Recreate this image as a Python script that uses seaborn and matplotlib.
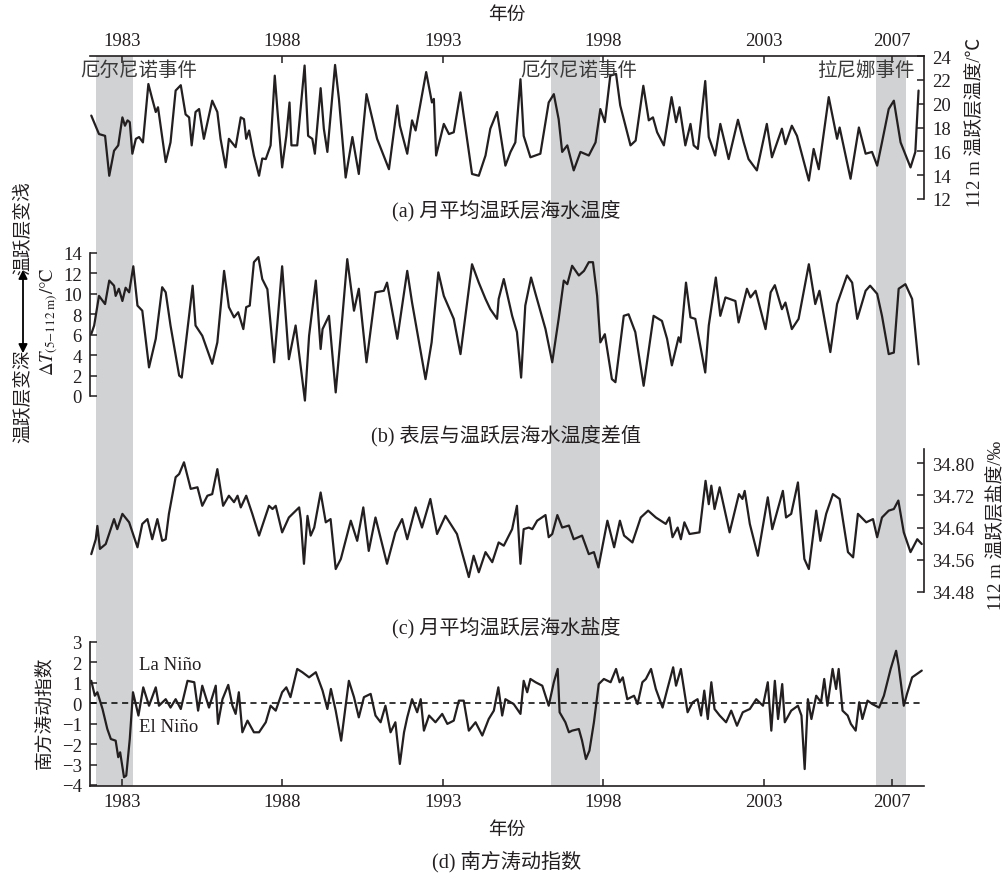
import matplotlib
matplotlib.use("Agg")
import matplotlib.pyplot as plt
import seaborn as sns
import pandas as pd

# ---------------- data ----------------
tick_years = [1983, 1988, 1993, 1998, 2003, 2007]
events = [(1982.19, 1983.34), (1996.36, 1997.89), (2006.49, 2007.45)]
event_labels = ["厄尔尼诺事件", "厄尔尼诺事件", "拉尼娜事件"]

# (a) 112 m thermocline temperature, degC
temp_pts = [
    (1982.04, 19.0), (1982.28, 17.45), (1982.47, 17.3), (1982.6, 13.95), (1982.75, 16.05),
    (1982.88, 16.5), (1983.01, 18.85), (1983.09, 18.15), (1983.17, 18.6), (1983.24, 18.45),
    (1983.32, 15.8), (1983.43, 17.05), (1983.53, 17.2), (1983.65, 16.75), (1983.82, 21.65),
    (1983.94, 20.4), (1984.05, 19.3), (1984.12, 19.7), (1984.2, 18.15), (1984.36, 15.1),
    (1984.51, 16.75), (1984.67, 21.1), (1984.83, 21.55), (1984.98, 19.1), (1985.09, 18.85),
    (1985.17, 16.5), (1985.29, 19.3), (1985.4, 19.55), (1985.55, 17.05), (1985.81, 20.25),
    (1985.97, 19.3), (1986.07, 17.05), (1986.23, 14.65), (1986.33, 17.05), (1986.54, 16.35),
    (1986.7, 18.85), (1986.8, 18.7), (1986.87, 17.05), (1986.96, 17.75), (1987.11, 15.65),
    (1987.27, 13.95), (1987.37, 15.4), (1987.48, 15.35), (1987.63, 16.5), (1987.76, 22.35),
    (1987.84, 19.55), (1987.99, 14.65), (1988.12, 17.3), (1988.22, 20.1), (1988.28, 16.5),
    (1988.46, 16.5), (1988.69, 23.2), (1988.8, 17.3), (1988.93, 17.05), (1989.01, 15.8),
    (1989.19, 21.3), (1989.29, 17.9), (1989.4, 15.95), (1989.64, 23.25), (1989.76, 20.4),
    (1989.97, 13.8), (1990.18, 17.2), (1990.38, 14.1), (1990.62, 20.8), (1990.95, 17.05),
    (1991.32, 14.5), (1991.58, 19.85), (1991.66, 18.15), (1991.89, 15.8), (1992.04, 18.6),
    (1992.15, 17.75), (1992.48, 22.65), (1992.66, 20.1), (1992.72, 20.4), (1992.79, 15.65),
    (1993.03, 18.3), (1993.19, 17.45), (1993.34, 17.6), (1993.55, 20.95), (1993.65, 19.0),
    (1993.91, 14.1), (1994.12, 13.95), (1994.33, 15.65), (1994.48, 17.9), (1994.69, 19.3),
    (1994.85, 16.5), (1994.95, 14.8), (1995.11, 15.95), (1995.26, 16.75), (1995.42, 22.05),
    (1995.52, 17.3), (1995.73, 15.5), (1996.04, 15.8), (1996.3, 20.1), (1996.46, 20.8),
    (1996.61, 18.7), (1996.72, 15.95), (1996.88, 16.5), (1997.08, 14.4), (1997.29, 15.95),
    (1997.55, 15.65), (1997.76, 16.75), (1997.91, 19.55), (1998.05, 18.45), (1998.22, 22.35),
    (1998.4, 22.5), (1998.53, 19.85), (1998.85, 16.5), (1999.01, 16.9), (1999.25, 21.5),
    (1999.42, 18.6), (1999.55, 18.85), (1999.68, 17.6), (1999.89, 16.5), (2000.13, 20.55),
    (2000.27, 18.45), (2000.38, 19.7), (2000.56, 16.5), (2000.72, 18.3), (2000.82, 16.5),
    (2000.95, 16.2), (2001.18, 21.9), (2001.29, 17.2), (2001.49, 15.65), (2001.65, 18.3),
    (2001.91, 15.35), (2002.2, 18.65), (2002.38, 16.75), (2002.53, 15.35), (2002.79, 14.4),
    (2003.1, 18.3), (2003.26, 15.5), (2003.57, 17.9), (2003.68, 16.6), (2003.88, 18.15),
    (2004.04, 17.3), (2004.41, 13.55), (2004.56, 16.2), (2004.72, 14.5), (2005.03, 20.55),
    (2005.29, 17.05), (2005.37, 18.0), (2005.71, 13.7), (2005.97, 18.0), (2006.18, 15.8),
    (2006.38, 15.95), (2006.54, 14.8), (2006.69, 16.75), (2006.9, 19.55), (2007.06, 20.25),
    (2007.27, 16.75), (2007.58, 14.65), (2007.73, 15.95), (2007.83, 21.1),
]

# (b) surface minus thermocline temperature, degC
dT_pts = [
    (1982.04, 6.07), (1982.13, 6.9), (1982.28, 9.8), (1982.47, 9.0), (1982.6, 11.3),
    (1982.75, 10.8), (1982.8, 9.8), (1982.9, 10.5), (1983.01, 9.3), (1983.11, 10.6),
    (1983.22, 10.15), (1983.35, 12.7), (1983.48, 8.85), (1983.63, 8.35), (1983.84, 2.8),
    (1984.05, 5.6), (1984.25, 10.65), (1984.36, 10.15), (1984.51, 6.9), (1984.78, 2.0),
    (1984.86, 1.8), (1985.04, 6.55), (1985.2, 10.8), (1985.29, 6.9), (1985.5, 5.9),
    (1985.81, 3.15), (1985.97, 5.25), (1986.18, 12.25), (1986.33, 8.7), (1986.49, 7.7),
    (1986.62, 8.2), (1986.78, 6.55), (1986.87, 8.7), (1986.98, 8.85), (1987.11, 13.1),
    (1987.25, 13.6), (1987.37, 11.45), (1987.53, 10.45), (1987.74, 3.3), (1987.99, 12.7),
    (1988.2, 3.6), (1988.41, 6.9), (1988.7, -0.45), (1988.83, 5.9), (1989.04, 11.3),
    (1989.19, 4.6), (1989.25, 6.55), (1989.45, 7.85), (1989.66, 0.35), (1989.87, 7.85),
    (1990.02, 13.4), (1990.23, 8.35), (1990.38, 10.5), (1990.62, 3.3), (1990.9, 10.15),
    (1991.16, 10.3), (1991.26, 11.1), (1991.58, 5.6), (1991.89, 12.25), (1992.04, 9.15),
    (1992.46, 1.65), (1992.65, 5.25), (1992.86, 12.1), (1993.03, 9.8), (1993.34, 7.55),
    (1993.55, 4.1), (1993.91, 12.9), (1994.12, 11.1), (1994.33, 9.5), (1994.48, 8.5),
    (1994.69, 7.55), (1994.74, 9.5), (1994.9, 11.45), (1995.16, 7.85), (1995.31, 6.25),
    (1995.44, 1.8), (1995.57, 8.85), (1995.75, 11.6), (1995.89, 10.0), (1996.2, 6.55),
    (1996.41, 3.3), (1996.61, 7.55), (1996.77, 11.3), (1996.88, 10.95), (1997.03, 12.75),
    (1997.24, 11.8), (1997.4, 12.25), (1997.55, 13.1), (1997.68, 13.1), (1997.81, 9.8),
    (1997.91, 5.25), (1998.05, 6.05), (1998.27, 1.65), (1998.38, 1.35), (1998.64, 7.85),
    (1998.79, 8.0), (1999.0, 6.25), (1999.26, 1.0), (1999.57, 7.85), (1999.83, 7.35),
    (1999.99, 5.6), (2000.14, 3.0), (2000.35, 5.75), (2000.41, 5.25), (2000.58, 11.1),
    (2000.72, 7.7), (2000.87, 7.55), (2001.18, 2.3), (2001.29, 6.9), (2001.51, 11.6),
    (2001.65, 7.85), (2001.81, 9.65), (2002.12, 9.3), (2002.22, 7.2), (2002.48, 10.5),
    (2002.59, 9.65), (2002.75, 10.3), (2003.06, 6.55), (2003.22, 10.15), (2003.35, 10.85),
    (2003.57, 8.5), (2003.68, 9.15), (2003.88, 6.55), (2004.09, 7.55), (2004.41, 12.9),
    (2004.61, 9.0), (2004.74, 10.3), (2005.08, 4.3), (2005.29, 9.0), (2005.6, 11.8),
    (2005.76, 11.1), (2005.92, 7.55), (2006.18, 10.3), (2006.32, 10.8), (2006.54, 10.0),
    (2006.69, 7.85), (2006.9, 4.1), (2007.06, 4.25), (2007.21, 10.5), (2007.42, 10.95),
    (2007.63, 9.5), (2007.83, 3.1),
]

# (c) 112 m thermocline salinity, per mille
sal_pts = [
    (1982.04, 34.574), (1982.18, 34.611), (1982.23, 34.644), (1982.31, 34.587), (1982.49, 34.599),
    (1982.75, 34.661), (1982.85, 34.636), (1983.01, 34.674), (1983.22, 34.653), (1983.48, 34.591),
    (1983.63, 34.649), (1983.79, 34.661), (1983.94, 34.611), (1984.1, 34.661), (1984.25, 34.607),
    (1984.36, 34.611), (1984.46, 34.674), (1984.67, 34.765), (1984.78, 34.773), (1984.93, 34.802),
    (1985.14, 34.736), (1985.35, 34.74), (1985.5, 34.694), (1985.66, 34.719), (1985.81, 34.723),
    (1985.97, 34.785), (1986.15, 34.694), (1986.33, 34.719), (1986.49, 34.703), (1986.6, 34.719),
    (1986.7, 34.69), (1986.87, 34.719), (1987.06, 34.674), (1987.27, 34.62), (1987.58, 34.694),
    (1987.69, 34.686), (1987.79, 34.694), (1987.99, 34.628), (1988.2, 34.665), (1988.52, 34.69),
    (1988.57, 34.661), (1988.67, 34.55), (1988.78, 34.669), (1988.88, 34.62), (1988.99, 34.64),
    (1989.19, 34.727), (1989.35, 34.653), (1989.5, 34.661), (1989.66, 34.537), (1989.82, 34.562),
    (1990.13, 34.657), (1990.33, 34.607), (1990.52, 34.69), (1990.69, 34.582), (1990.9, 34.665),
    (1991.26, 34.55), (1991.52, 34.628), (1991.73, 34.661), (1991.89, 34.611), (1992.15, 34.69),
    (1992.35, 34.64), (1992.61, 34.711), (1992.82, 34.624), (1993.08, 34.669), (1993.44, 34.624),
    (1993.81, 34.517), (1993.96, 34.57), (1994.12, 34.529), (1994.33, 34.579), (1994.54, 34.554),
    (1994.74, 34.603), (1994.9, 34.595), (1995.16, 34.636), (1995.31, 34.694), (1995.42, 34.55),
    (1995.52, 34.636), (1995.68, 34.64), (1995.79, 34.636), (1995.94, 34.657), (1996.2, 34.671),
    (1996.3, 34.616), (1996.41, 34.624), (1996.57, 34.671), (1996.72, 34.64), (1996.93, 34.645),
    (1997.08, 34.611), (1997.34, 34.62), (1997.55, 34.574), (1997.71, 34.579), (1997.85, 34.541),
    (1998.13, 34.657), (1998.34, 34.591), (1998.52, 34.657), (1998.65, 34.62), (1998.91, 34.603),
    (1999.17, 34.665), (1999.4, 34.682), (1999.64, 34.665), (1999.95, 34.649), (2000.06, 34.665),
    (2000.16, 34.616), (2000.32, 34.64), (2000.42, 34.611), (2000.53, 34.653), (2000.69, 34.624),
    (2001.0, 34.628), (2001.19, 34.756), (2001.29, 34.698), (2001.37, 34.744), (2001.47, 34.686),
    (2001.63, 34.74), (2001.94, 34.628), (2002.23, 34.723), (2002.34, 34.711), (2002.41, 34.731),
    (2002.57, 34.649), (2002.82, 34.57), (2003.13, 34.715), (2003.27, 34.636), (2003.6, 34.731),
    (2003.7, 34.665), (2003.86, 34.674), (2004.07, 34.752), (2004.27, 34.562), (2004.41, 34.537),
    (2004.64, 34.682), (2004.77, 34.607), (2004.95, 34.674), (2005.16, 34.723), (2005.37, 34.711),
    (2005.63, 34.579), (2005.79, 34.566), (2005.94, 34.674), (2006.2, 34.653), (2006.41, 34.661),
    (2006.54, 34.616), (2006.69, 34.665), (2006.9, 34.682), (2007.06, 34.686), (2007.2, 34.707),
    (2007.37, 34.628), (2007.58, 34.579), (2007.79, 34.611), (2007.93, 34.599),
]

# (d) Southern Oscillation Index
soi_pts = [
    (1982.04, 1.1), (1982.15, 0.37), (1982.23, 0.54), (1982.39, -0.28), (1982.54, -1.26),
    (1982.65, -1.75), (1982.8, -1.83), (1982.88, -2.64), (1982.94, -2.4), (1983.06, -3.62),
    (1983.13, -3.54), (1983.24, -1.75), (1983.34, 0.54), (1983.51, -0.6), (1983.66, 0.78),
    (1983.84, -0.12), (1984.05, 0.78), (1984.15, -0.12), (1984.36, 0.2), (1984.51, -0.21),
    (1984.67, 0.2), (1984.83, -0.28), (1985.04, 1.1), (1985.25, 1.03), (1985.37, -0.36),
    (1985.5, 0.86), (1985.71, -0.21), (1985.92, 0.86), (1985.99, -1.01), (1986.13, 0.2),
    (1986.31, 0.9), (1986.44, -0.12), (1986.54, -0.52), (1986.64, 0.54), (1986.75, -1.42),
    (1986.91, -0.85), (1987.11, -1.42), (1987.27, -1.42), (1987.48, -0.93), (1987.63, -0.12),
    (1987.79, -0.36), (1987.99, 0.54), (1988.12, 0.78), (1988.25, 0.3), (1988.46, 1.68),
    (1988.62, 1.52), (1988.83, 1.27), (1989.04, 1.52), (1989.25, 0.62), (1989.4, -0.28),
    (1989.51, 0.7), (1989.66, -0.36), (1989.83, -1.83), (1990.07, 1.1), (1990.23, 0.3),
    (1990.38, -0.69), (1990.54, 0.3), (1990.75, 0.46), (1990.9, -0.6), (1991.06, -0.93),
    (1991.21, -0.12), (1991.37, -1.42), (1991.52, -0.93), (1991.66, -2.97), (1991.79, -1.42),
    (1991.89, -0.69), (1992.04, 0.2), (1992.2, -0.44), (1992.31, 0.2), (1992.41, -1.34),
    (1992.57, -0.6), (1992.77, -0.93), (1992.98, -0.52), (1993.14, -1.01), (1993.34, -0.85),
    (1993.5, 0.13), (1993.65, 0.13), (1993.81, -1.34), (1994.02, -0.93), (1994.23, -1.58),
    (1994.43, -0.77), (1994.59, -0.36), (1994.73, 0.78), (1994.85, -0.6), (1994.95, 0.2),
    (1995.21, -0.04), (1995.42, -0.52), (1995.52, 1.1), (1995.63, 0.54), (1995.73, 1.19),
    (1995.89, 1.03), (1996.1, 0.86), (1996.3, -0.12), (1996.46, 1.03), (1996.58, 1.68),
    (1996.64, -0.44), (1996.82, -0.93), (1996.93, -1.42), (1997.03, -1.34), (1997.24, -1.26),
    (1997.34, -1.83), (1997.46, -2.73), (1997.57, -2.32), (1997.71, -0.93), (1997.86, 0.94),
    (1998.02, 1.19), (1998.23, 1.03), (1998.4, 1.68), (1998.51, 1.03), (1998.61, 1.27),
    (1998.75, 0.2), (1998.96, 0.37), (1999.07, -0.04), (1999.22, 1.03), (1999.33, 1.19),
    (1999.49, 1.68), (1999.64, 0.7), (1999.85, -0.21), (2000.0, 0.7), (2000.18, 1.76),
    (2000.27, 0.86), (2000.42, 1.68), (2000.63, -0.44), (2000.79, 0.05), (2000.94, 0.2),
    (2001.05, -0.6), (2001.15, 0.62), (2001.26, -0.77), (2001.37, 1.03), (2001.47, -0.28),
    (2001.63, -0.6), (2001.83, -0.93), (2001.99, -0.36), (2002.17, -1.1), (2002.35, -0.44),
    (2002.57, -0.28), (2002.77, 0.2), (2002.98, -0.12), (2003.13, 1.03), (2003.24, -1.34),
    (2003.35, 1.1), (2003.45, -0.77), (2003.58, 0.94), (2003.66, -0.93), (2003.86, -0.36),
    (2004.07, -0.12), (2004.18, -0.6), (2004.28, -3.22), (2004.38, 0.2), (2004.49, -0.77),
    (2004.64, 0.37), (2004.79, 0.05), (2004.89, 1.19), (2004.99, -0.12), (2005.15, 1.68),
    (2005.26, 0.7), (2005.34, 1.68), (2005.46, -0.36), (2005.62, -0.6), (2005.72, -1.01),
    (2005.87, -1.34), (2005.98, 0.05), (2006.08, -0.77), (2006.24, 0.13), (2006.39, -0.04),
    (2006.6, -0.21), (2006.75, 0.37), (2006.96, 1.68), (2007.13, 2.57), (2007.21, 1.84),
    (2007.37, -0.12), (2007.47, 0.46), (2007.63, 1.27), (2007.93, 1.6),
]

temp_ticks = [12, 14, 16, 18, 20, 22, 24]
dT_ticks = [0, 2, 4, 6, 8, 10, 12, 14]
sal_ticks = [34.48, 34.56, 34.64, 34.72, 34.80]
soi_ticks = [-4, -3, -2, -1, 0, 1, 2, 3]

# ---------------- styling ----------------
sns.set_theme(style="white")
plt.rcParams["font.family"] = ["Liberation Serif", "Noto Sans CJK SC"]
plt.rcParams["mathtext.fontset"] = "stix"
plt.rcParams["axes.unicode_minus"] = True

LC = "#231f20"
SHADE = "#d1d2d4"
TICK_FS = 13.5
W, H = 1006, 878
fig = plt.figure(figsize=(W / 100, H / 100), dpi=100)
fig.patch.set_facecolor("white")

XL, XR = 90, 924
XLIM = (1982, 2008)


def rect(top, bottom):
    return [XL / W, 1 - bottom / H, (XR - XL) / W, (bottom - top) / H]


def fx(px):
    return px / W


def fy(py):
    return 1 - py / H


# background axes: shading, top and bottom year axes
bg = fig.add_axes(rect(57, 787))
bg.set_facecolor("white")
bg.set_xlim(*XLIM)
bg.set_ylim(0, 1)
for s, e in events:
    bg.axvspan(s, e, color=SHADE, lw=0, zorder=0)
for side in ["left", "right"]:
    bg.spines[side].set_visible(False)
for side in ["top", "bottom"]:
    bg.spines[side].set_visible(True)
    bg.spines[side].set_color(LC)
    bg.spines[side].set_linewidth(1.2)
bg.set_yticks([])
bg.set_xticks(tick_years)
bg.set_xticklabels([str(y) for y in tick_years])
bg.tick_params(axis="x", top=True, bottom=True, labeltop=True, labelbottom=True,
               direction="in", length=5, width=1.1, color=LC, pad=5,
               labelsize=TICK_FS, labelcolor=LC)


def panel(top, bottom, pts, ylim, ticks, side, labels=None, bounds=None):
    ax = fig.add_axes(rect(top, bottom))
    ax.patch.set_alpha(0)
    df = pd.DataFrame(pts, columns=["year", "value"])
    sns.lineplot(data=df, x="year", y="value", ax=ax, color=LC, linewidth=1.6,
                 estimator=None, sort=True)
    ax.set_xlim(*XLIM)
    ax.set_ylim(*ylim)
    ax.set_xlabel("")
    ax.set_ylabel("")
    ax.set_xticks([])
    for s in ["left", "right", "top", "bottom"]:
        ax.spines[s].set_visible(False)
    ax.spines[side].set_visible(True)
    ax.spines[side].set_color(LC)
    ax.spines[side].set_linewidth(1.2)
    if bounds is not None:
        ax.spines[side].set_bounds(*bounds)
    if side == "right":
        ax.yaxis.tick_right()
    else:
        ax.yaxis.tick_left()
    ax.set_yticks(ticks)
    if labels is not None:
        ax.set_yticklabels(labels)
    ax.tick_params(axis="y", direction="in", length=5, width=1.1, color=LC,
                   pad=6, labelsize=TICK_FS, labelcolor=LC)
    return ax


ax_a = panel(57, 200, temp_pts, (12, 24), temp_ticks, "right")
ax_b = panel(254, 407.2, dT_pts, (-1, 14), dT_ticks, "left", bounds=(0, 14))
ax_c = panel(450, 593, sal_pts, (34.48, 34.835), sal_ticks, "right",
             labels=[f"{v:.2f}" for v in sal_ticks], bounds=(34.48, 34.835))
ax_d = panel(643, 787, soi_pts, (-4.05, 3), soi_ticks, "left", bounds=(-4.05, 3))
ax_d.axhline(0, color="black", linestyle=(0, (4, 3)), linewidth=1.1, zorder=1)

# ---------------- texts ----------------
CJK_FS = 14
fig.text(fx(507), fy(15), "年份", ha="center", va="center", fontsize=TICK_FS, color=LC)
fig.text(fx(507), fy(830), "年份", ha="center", va="center", fontsize=TICK_FS, color=LC)

for (lx, lab) in zip([80, 520, 817], event_labels):
    fig.text(fx(lx), fy(71), lab, ha="left", va="center", fontsize=CJK_FS, color="#3a3a3a")

TITLE_FS = 14.5
fig.text(fx(506), fy(211), "(a) 月平均温跃层海水温度", ha="center", va="center", fontsize=TITLE_FS, color=LC)
fig.text(fx(506), fy(436), "(b) 表层与温跃层海水温度差值", ha="center", va="center", fontsize=TITLE_FS, color=LC)
fig.text(fx(506), fy(628), "(c) 月平均温跃层海水盐度", ha="center", va="center", fontsize=TITLE_FS, color=LC)
fig.text(fx(507), fy(862), "(d) 南方涛动指数", ha="center", va="center", fontsize=TITLE_FS, color=LC)

fig.text(fx(975), fy(122), "112 m 温跃层温度/℃", rotation=90, ha="center", va="center",
         fontsize=TICK_FS, color=LC)
fig.text(fx(996), fy(525), "112 m 温跃层盐度/‰", rotation=90, ha="center", va="center",
         fontsize=TICK_FS, color=LC)
fig.text(fx(49), fy(322), r"$\Delta T_{(5\mathrm{-}112\ \mathrm{m})}/\mathrm{°C}$", rotation=90,
         ha="center", va="center", fontsize=TICK_FS, color=LC)
fig.text(fx(45), fy(713), "南方涛动指数", rotation=90, ha="center", va="center",
         fontsize=TICK_FS, color=LC)

fig.text(fx(23), fy(228), "温跃层变浅", rotation=90, ha="center", va="center",
         fontsize=TICK_FS, color=LC)
fig.text(fx(23), fy(396), "温跃层变深", rotation=90, ha="center", va="center",
         fontsize=TICK_FS, color=LC)
fig.add_artist(matplotlib.patches.FancyArrowPatch(
    (fx(23), fy(357)), (fx(23), fy(268)), transform=fig.transFigure,
    arrowstyle="<|-|>", mutation_scale=13, color="black", linewidth=1.3))

fig.text(fx(139), fy(666), "La Niño", ha="left", va="center", fontsize=TICK_FS, color=LC)
fig.text(fx(139), fy(728), "El Niño", ha="left", va="center", fontsize=TICK_FS, color=LC)

fig.savefig("out.png", dpi=100, facecolor="white")
